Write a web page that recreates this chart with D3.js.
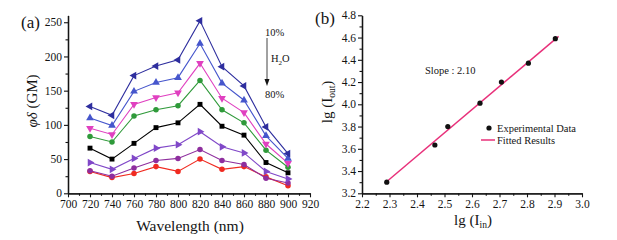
<!DOCTYPE html>
<html>
<head>
<meta charset="utf-8">
<script src="https://cdn.jsdelivr.net/npm/d3@7"></script>
<style>
  body { margin: 0; background: #fff; }
  svg text { font-family: "Liberation Serif", "DejaVu Serif", "Times New Roman", serif !important; }
</style>
</head>
<body>
<div id="chart"></div>
<script>
// panel (a) data: wavelength vs phi*delta for water fractions 10% .. 80%
const wavelengths = [720, 740, 760, 780, 800, 820, 840, 860, 880, 900];
const s10 = [127, 114, 172, 186, 195, 252, 185, 157, 97, 58];
const s20 = [110, 99, 149, 162, 169, 219, 161, 136, 84, 51];
const s30 = [95, 86, 130, 140, 147, 190, 139, 118, 72, 44];
const s40 = [83, 75, 113, 122, 128, 165, 122, 103, 63, 38];
const s50 = [66, 50, 73, 96, 103, 130, 98, 85, 45, 30];
const s60 = [45, 35, 51, 66, 71, 90, 68, 59, 32, 21];
const s70 = [33, 25, 37, 48, 51, 64, 48, 42, 22, 15];
const s80 = [32, 23, 29, 39, 32, 50, 35, 39, 24, 11];
const seriesColors = ["#2e2e9e", "#4656cc", "#e040c0", "#2f9a3a", "#000000", "#8048c8", "#8e2e9e", "#f02a20"];
const seriesShapes = ["left", "up", "down", "circle", "square", "right", "circle", "circle"];
const xTicksA = [700, 720, 740, 760, 780, 800, 820, 840, 860, 880, 900, 920];
const yTicksA = [0, 50, 100, 150, 200, 250];

// panel (b) data: log-log power dependence
const lgIn = [2.29, 2.465, 2.512, 2.629, 2.707, 2.805, 2.903];
const lgOut = [3.30, 3.634, 3.80, 4.01, 4.20, 4.37, 4.59];
const fitX = [2.285, 2.915];
const fitY = [3.295, 4.61];
const xTicksB = [2.2, 2.3, 2.4, 2.5, 2.6, 2.7, 2.8, 2.9, 3.0];
const yTicksB = [3.2, 3.4, 3.6, 3.8, 4.0, 4.2, 4.4, 4.6, 4.8];

const W = 617, H = 240;
const ink = "#141414";
const svg = d3.select("#chart").append("svg")
    .attr("width", W).attr("height", H)
    .style("background", "#fff");

// ---------- panel (a) ----------
const xA = d3.scaleLinear().domain([700, 920]).range([68, 310]);
const yA = d3.scaleLinear().domain([0, 260]).range([193.3, 15.4]);

const gA = svg.append("g");

function styleAxis(g) {
    g.selectAll("path").attr("stroke", ink).attr("stroke-width", 1.3);
    g.selectAll("line").attr("stroke", ink).attr("stroke-width", 1.1);
    g.selectAll("text").attr("fill", ink).attr("font-size", 11.5);
}

// minor ticks first, then major ones
gA.append("g").attr("transform", "translate(0,193.3)")
    .call(d3.axisBottom(xA).tickValues(d3.range(710, 920, 20)).tickSize(2.5).tickFormat("").tickSizeOuter(0))
    .call(styleAxis);
gA.append("g").attr("transform", "translate(0,193.3)")
    .call(d3.axisBottom(xA).tickValues(xTicksA).tickSize(4).tickPadding(3).tickSizeOuter(0))
    .call(styleAxis);
gA.append("g").attr("transform", "translate(68,0)")
    .call(d3.axisLeft(yA).tickValues(d3.range(25, 260, 50)).tickSize(2.5).tickFormat("").tickSizeOuter(0))
    .call(styleAxis);
gA.append("g").attr("transform", "translate(68,0)")
    .call(d3.axisLeft(yA).tickValues(yTicksA).tickSize(4).tickPadding(2).tickSizeOuter(0))
    .call(styleAxis);

const allA = [s10, s20, s30, s40, s50, s60, s70, s80];
const lineA = d3.line().x((d, i) => xA(wavelengths[i])).y(d => yA(d));

function markerPath(shape) {
    if (shape === "circle") return d3.symbol(d3.symbolCircle, 24)();
    if (shape === "square") return d3.symbol(d3.symbolSquare, 24)();
    return d3.symbol(d3.symbolTriangle, 26)();
}
const rot = { up: 0, down: 180, left: -90, right: 90 };

// draw from the bottom series up so top lines sit above
allA.slice().reverse().forEach((vals, ri) => {
    const k = allA.length - 1 - ri;
    const col = seriesColors[k];
    const shp = seriesShapes[k];
    gA.append("path")
        .datum(vals)
        .attr("d", lineA)
        .attr("fill", "none")
        .attr("stroke", col)
        .attr("stroke-width", 1.1);
    gA.selectAll(".m" + k)
        .data(vals)
        .join("path")
        .attr("class", "m" + k)
        .attr("d", markerPath(shp))
        .attr("transform", (d, i) => `translate(${xA(wavelengths[i])},${yA(d)}) rotate(${rot[shp] || 0})`)
        .attr("fill", col);
});

// panel label and axis titles
gA.append("text").attr("x", 21).attr("y", 28).attr("font-size", 17).attr("fill", ink).text("(a)");
gA.append("text")
    .attr("transform", "translate(37,101) rotate(-90)")
    .attr("text-anchor", "middle").attr("font-size", 15).attr("fill", ink)
    .html('<tspan font-style="italic">φδ</tspan> (GM)');
gA.append("text").attr("x", 190).attr("y", 231).attr("text-anchor", "middle")
    .attr("font-size", 15.5).attr("fill", ink).text("Wavelength (nm)");

// water-fraction arrow annotation
gA.append("text").attr("x", 265).attr("y", 36).attr("font-size", 10.5).attr("fill", ink).text("10%");
gA.append("line").attr("x1", 267).attr("x2", 267).attr("y1", 38).attr("y2", 82)
    .attr("stroke", ink).attr("stroke-width", 0.8);
gA.append("path").attr("d", "M264.5,79 L269.5,79 L267,86 Z").attr("fill", ink);
gA.append("text").attr("x", 271).attr("y", 62).attr("font-size", 10.5).attr("fill", ink)
    .html('H<tspan font-size="7" dy="3">2</tspan><tspan dy="-3">O</tspan>');
gA.append("text").attr("x", 265).attr("y", 98).attr("font-size", 10.5).attr("fill", ink).text("80%");

// ---------- panel (b) ----------
const xB = d3.scaleLinear().domain([2.2, 3.0]).range([362, 582]);
const yB = d3.scaleLinear().domain([3.2, 4.8]).range([193.3, 15.3]);
const gB = svg.append("g");

gB.append("g").attr("transform", "translate(0,193.3)")
    .call(d3.axisBottom(xB).tickValues(d3.range(2.25, 3.0, 0.1)).tickSize(2.5).tickFormat("").tickSizeOuter(0))
    .call(styleAxis);
gB.append("g").attr("transform", "translate(0,193.3)")
    .call(d3.axisBottom(xB).tickValues(xTicksB).tickSize(4).tickPadding(3).tickFormat(d3.format(".1f")).tickSizeOuter(0))
    .call(styleAxis);
gB.append("g").attr("transform", "translate(362,0)")
    .call(d3.axisLeft(yB).tickValues(d3.range(3.3, 4.8, 0.2)).tickSize(2.5).tickFormat("").tickSizeOuter(0))
    .call(styleAxis);
gB.append("g").attr("transform", "translate(362,0)")
    .call(d3.axisLeft(yB).tickValues(yTicksB).tickSize(4).tickPadding(2).tickFormat(d3.format(".1f")).tickSizeOuter(0))
    .call(styleAxis);

// fitted line
gB.append("path")
    .datum(fitX.map((x, i) => [x, fitY[i]]))
    .attr("d", d3.line().x(d => xB(d[0])).y(d => yB(d[1])))
    .attr("stroke", "#e8307a").attr("stroke-width", 1.5).attr("fill", "none");

// experimental points
gB.selectAll(".pt")
    .data(lgIn)
    .join("circle")
    .attr("class", "pt")
    .attr("cx", d => xB(d))
    .attr("cy", (d, i) => yB(lgOut[i]))
    .attr("r", 2.6)
    .attr("fill", "#111");

gB.append("text").attr("x", 315).attr("y", 24).attr("font-size", 17).attr("fill", ink).text("(b)");
gB.append("text")
    .attr("transform", "translate(332,102) rotate(-90)")
    .attr("text-anchor", "middle").attr("font-size", 15).attr("fill", ink)
    .html('lg (I<tspan font-size="9.5" dy="3">out</tspan><tspan dy="-3">)</tspan>');
gB.append("text").attr("x", 473).attr("y", 225).attr("text-anchor", "middle")
    .attr("font-size", 15).attr("fill", ink)
    .html('lg (I<tspan font-size="9.5" dy="3">in</tspan><tspan dy="-3">)</tspan>');
gB.append("text").attr("x", 425).attr("y", 74).attr("font-size", 10.5).attr("fill", ink).text("Slope : 2.10");

// legend
gB.append("circle").attr("cx", 489).attr("cy", 128).attr("r", 2.6).attr("fill", "#111");
gB.append("text").attr("x", 497).attr("y", 131.5).attr("font-size", 10.5).attr("fill", ink).text("Experimental Data");
gB.append("line").attr("x1", 481).attr("x2", 495).attr("y1", 140).attr("y2", 140)
    .attr("stroke", "#e8307a").attr("stroke-width", 1.5);
gB.append("text").attr("x", 497).attr("y", 143.5).attr("font-size", 10.5).attr("fill", ink).text("Fitted Results");
</script>
</body>
</html>
